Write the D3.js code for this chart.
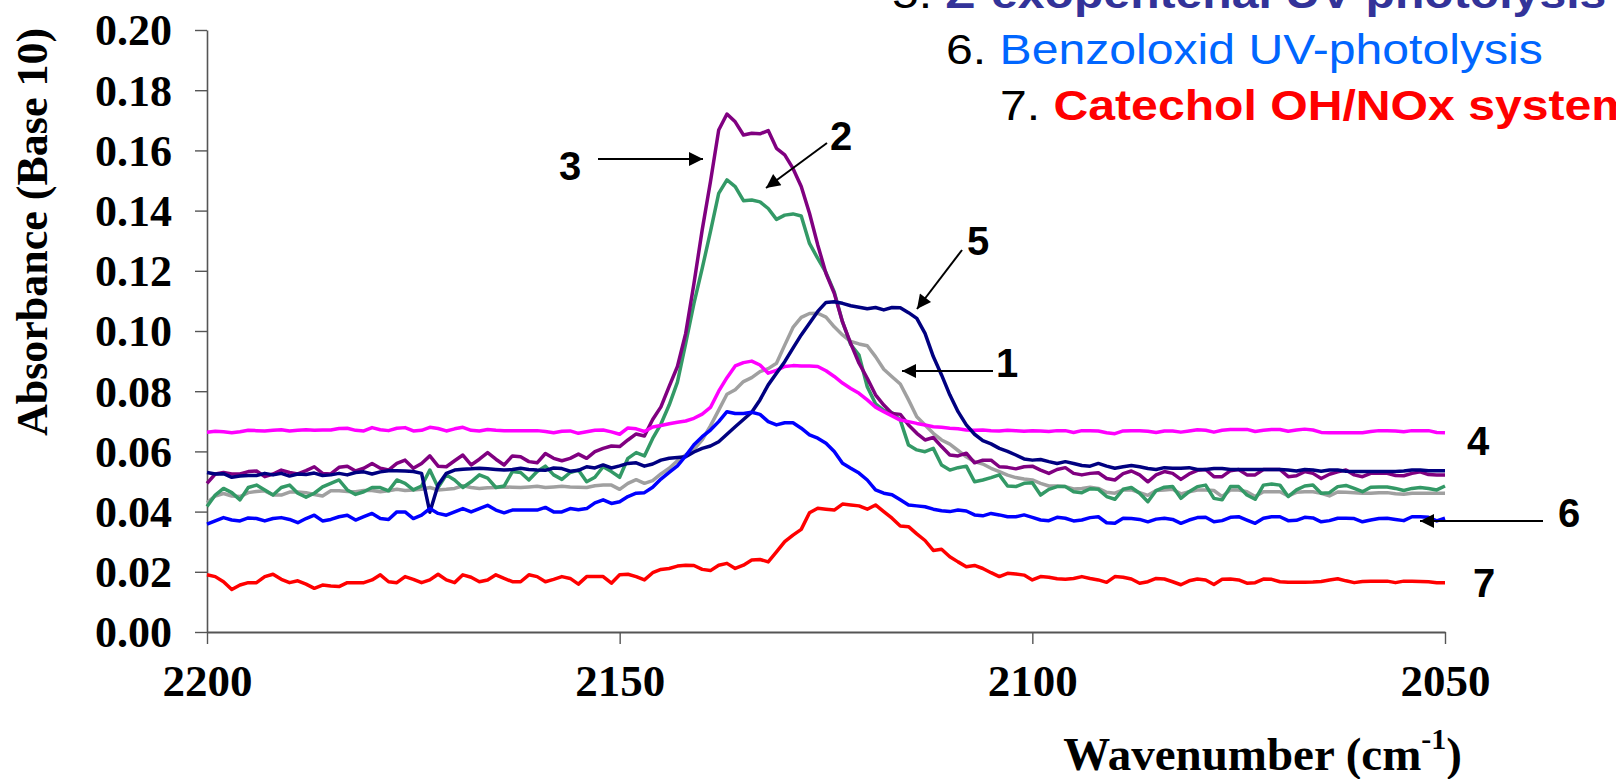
<!DOCTYPE html>
<html>
<head>
<meta charset="utf-8">
<script src="https://cdn.jsdelivr.net/npm/d3@7"></script>
<style>
  html, body { margin: 0; padding: 0; background: #ffffff; overflow: hidden; }
  svg { display: block; }
</style>
</head>
<body>
<svg id="chart" width="1616" height="779"></svg>
<script>
// Absorbance spectra, 2200 -> 2050 cm-1, one value per wavenumber
const wavenumbers = d3.range(2200, 2049, -1);

const seriesNames = ["1", "2", "3", "4", "5", "6", "7"];
const seriesColors = ["#a0a0a0", "#339966", "#800080", "#ff00ff", "#000080", "#0000ff", "#ff0000"];

const absorbance1 = [
  .0430, .0452, .0460, .0452, .0450, .0463, .0467, .0469, .0455, .0455,
  .0465, .0465, .0463, .0457, .0452, .0469, .0469, .0467, .0466, .0470,
  .0470, .0466, .0469, .0474, .0470, .0472, .0474, .0480, .0472, .0474,
  .0477, .0486, .0480, .0477, .0479, .0480, .0482, .0481, .0480, .0482,
  .0484, .0480, .0482, .0484, .0482, .0481, .0480, .0486, .0488, .0488,
  .0474,
  .0494, .0506, .0494, .0503, .0525, .0544, .0569, .0588, .0607, .0638, .0685, .0737,
  .0790, .0805, .0832, .0845, .0865, .0875, .0893, .0953, .1012, .1045,
  .1058, .1059, .1046, .1014, .0987, .0965, .0957, .0951, .0915, .0873,
  .0848, .0824, .0771, .0715, .0688, .0660, .0638, .0624, .0603, .0582,
  .0566, .0558, .0544, .0533, .0521, .0513,
  .0508, .0505, .0494, .0485, .0485, .0483, .0475, .0477, .0481, .0477,
  .0464, .0461, .0472, .0472, .0463, .0454, .0470, .0472, .0474, .0459,
  .0466, .0472, .0472, .0470, .0450, .0472, .0472, .0466, .0450, .0466,
  .0466, .0466, .0452, .0464, .0466, .0466, .0461, .0452, .0465, .0464,
  .0463, .0461, .0461, .0463, .0463, .0459, .0458, .0461, .0461, .0461,
  .0461, .0461
];

const absorbance2 = [
  .0417, .0455, .0477, .0463, .0439, .0480, .0488, .0472, .0455, .0480,
  .0488, .0461, .0448, .0461, .0482, .0494, .0505, .0472, .0457, .0466,
  .0480, .0480, .0469, .0505, .0494, .0472, .0485, .0538, .0480, .0522,
  .0505, .0480, .0499, .0522, .0511, .0480, .0485, .0533, .0530, .0505,
  .0533, .0551, .0522, .0507, .0530, .0538, .0499, .0514, .0549, .0533,
  .0514,
  .0577, .0596, .0585, .0643, .0691, .0754,
  .0830, .0959, .1092, .1208, .1330, .1457, .1502, .1480, .1433, .1435,
  .1429, .1407, .1371, .1385, .1389, .1382, .1291, .1241, .1194, .1130,
  .1030, .0955, .0920, .0815, .0758, .0736, .0729, .0704, .0621, .0605,
  .0599, .0610, .0555, .0538, .0546, .0551, .0499, .0505, .0513, .0522,
  .0485, .0483,
  .0494, .0496, .0455, .0474, .0483, .0483, .0466, .0463, .0476, .0474,
  .0450, .0441, .0474, .0480, .0461, .0433, .0470, .0481, .0483, .0444,
  .0466, .0483, .0488, .0444, .0439, .0483, .0483, .0455, .0441, .0488,
  .0492, .0488, .0450, .0472, .0485, .0488, .0461, .0463, .0483, .0487,
  .0477, .0466, .0481, .0482, .0482, .0477, .0470, .0477, .0480, .0477,
  .0472, .0485
];

const absorbance3 = [
  .0494, .0525, .0530, .0525, .0525, .0533, .0535, .0516, .0525, .0538,
  .0530, .0525, .0536, .0549, .0527, .0525, .0547, .0551, .0535, .0544,
  .0560, .0544, .0538, .0560, .0571, .0544, .0560, .0585, .0551, .0549,
  .0569, .0588, .0555, .0574, .0596, .0574, .0555, .0585, .0582, .0566,
  .0562, .0593, .0577, .0569, .0577, .0591, .0577, .0599, .0610, .0618,
  .0616,
  .0638, .0658, .0651, .0706, .0748,
  .0816, .0882, .0992, .1158, .1336, .1496, .1668, .1721, .1695, .1651,
  .1657, .1655, .1666, .1607, .1585, .1540, .1480, .1391, .1286, .1191,
  .1125, .1030, .0958, .0893, .0843, .0788, .0754, .0726, .0723, .0688,
  .0660, .0638, .0646, .0616, .0588, .0585, .0594, .0562, .0571, .0571,
  .0549, .0547, .0542,
  .0549, .0551, .0538, .0527, .0540, .0546, .0527, .0522, .0527, .0529,
  .0510, .0505, .0526, .0535, .0522, .0499, .0522, .0533, .0527, .0507,
  .0525, .0537, .0540, .0516, .0516, .0536, .0540, .0522, .0522, .0540,
  .0540, .0540, .0516, .0519, .0533, .0527, .0510, .0524, .0532, .0538,
  .0522, .0516, .0527, .0528, .0527, .0520, .0519, .0527, .0532, .0523,
  .0522, .0522
];

const absorbance4 = [
  .0664, .0667, .0665, .0662, .0665, .0670, .0669, .0668, .0670, .0672,
  .0668, .0670, .0672, .0670, .0671, .0671, .0676, .0677, .0670, .0668,
  .0679, .0672, .0669, .0677, .0679, .0668, .0670, .0680, .0676, .0668,
  .0675, .0680, .0670, .0668, .0673, .0670, .0669, .0669, .0669, .0669,
  .0669, .0666, .0662, .0667, .0668, .0660, .0665, .0670, .0671, .0665,
  .0657,
  .0678, .0675, .0666, .0681, .0686, .0692, .0697, .0701, .0710, .0724, .0746, .0800,
  .0845, .0884, .0895, .0900, .0887, .0860, .0869, .0882, .0885, .0884,
  .0884, .0882, .0868, .0849, .0827, .0809, .0793, .0771, .0747, .0732,
  .0718, .0704, .0699, .0693, .0688, .0682, .0680, .0677, .0675, .0671,
  .0670, .0671, .0669, .0668, .0670, .0669,
  .0667, .0669, .0668, .0666, .0669, .0669, .0663, .0669, .0669, .0668,
  .0662, .0659, .0668, .0669, .0669, .0667, .0663, .0668, .0668, .0664,
  .0668, .0672, .0670, .0664, .0670, .0673, .0673, .0673, .0666, .0670,
  .0673, .0673, .0667, .0671, .0674, .0671, .0663, .0662, .0662, .0662,
  .0662, .0662, .0666, .0669, .0669, .0668, .0665, .0669, .0669, .0669,
  .0663, .0662
];

const absorbance5 = [
  .0530, .0525, .0526, .0514, .0518, .0520, .0520, .0527, .0522, .0527,
  .0518, .0525, .0523, .0528, .0520, .0522, .0527, .0522, .0530, .0532,
  .0525, .0532, .0536, .0536, .0535, .0533, .0527, .0398, .0488, .0527,
  .0538, .0541, .0542, .0544, .0542, .0540, .0538, .0540, .0544, .0540,
  .0538, .0537, .0545, .0543, .0534, .0537, .0549, .0545, .0555, .0545,
  .0552,
  .0560, .0562, .0551, .0558, .0571, .0577, .0580, .0582, .0598, .0610,
  .0618, .0632, .0657, .0682, .0706, .0730, .0771,
  .0821, .0860, .0898, .0943, .0987, .1026, .1065, .1095, .1097, .1092,
  .1084, .1079, .1074, .1078, .1070, .1078, .1077, .1061, .1042, .0992,
  .0915, .0854, .0788, .0732, .0688, .0657, .0636, .0625, .0610,
  .0600, .0588,
  .0575, .0571, .0573, .0566, .0560, .0566, .0560, .0553, .0551, .0560,
  .0551, .0544, .0549, .0553, .0549, .0543, .0540, .0546, .0544, .0544,
  .0546, .0540, .0540, .0543, .0543, .0540, .0540, .0540, .0540, .0540,
  .0540, .0540, .0538, .0535, .0540, .0538, .0534, .0538, .0538, .0534,
  .0533, .0533, .0533, .0533, .0533, .0533, .0535, .0538, .0538, .0536,
  .0536, .0536
];

const absorbance6 = [
  .0358, .0369, .0380, .0372, .0369, .0379, .0377, .0369, .0377, .0380,
  .0374, .0363, .0377, .0388, .0369, .0374, .0383, .0388, .0372, .0383,
  .0394, .0377, .0374, .0399, .0399, .0377, .0388, .0410, .0394, .0388,
  .0399, .0410, .0399, .0410, .0421, .0405, .0396, .0405, .0405, .0405,
  .0405, .0414, .0399, .0399, .0410, .0406, .0410, .0429, .0439, .0427,
  .0433,
  .0450, .0461, .0463, .0481, .0508, .0530, .0552, .0585, .0622, .0649,
  .0671, .0699, .0732, .0726, .0726, .0730, .0723, .0699, .0688, .0695,
  .0695, .0677, .0655, .0644, .0627, .0600, .0561, .0544, .0528, .0505,
  .0472, .0461, .0456, .0439, .0422, .0419, .0416, .0408, .0403, .0400,
  .0405, .0402, .0389, .0386, .0394, .0389, .0383, .0383,
  .0389, .0381, .0372, .0370, .0381, .0378, .0369, .0372, .0380, .0383,
  .0363, .0361, .0378, .0377, .0374, .0366, .0375, .0378, .0374, .0361,
  .0372, .0380, .0381, .0366, .0370, .0381, .0383, .0372, .0361, .0378,
  .0383, .0383, .0370, .0371, .0381, .0379, .0366, .0370, .0378, .0378,
  .0377, .0366, .0372, .0377, .0378, .0374, .0370, .0383, .0383, .0381,
  .0369, .0378
];

const absorbance7 = [
  .0190, .0184, .0167, .0141, .0156, .0164, .0164, .0184, .0192, .0175,
  .0164, .0170, .0159, .0145, .0156, .0153, .0151, .0164, .0164, .0164,
  .0173, .0190, .0167, .0164, .0184, .0175, .0164, .0173, .0192, .0173,
  .0164, .0190, .0182, .0167, .0173, .0190, .0178, .0167, .0167, .0190,
  .0184, .0167, .0175, .0184, .0178, .0159, .0184, .0184, .0184, .0162,
  .0190,
  .0192, .0184, .0173, .0197, .0208, .0211, .0219, .0222, .0221, .0208,
  .0204, .0222, .0228, .0211, .0222, .0239, .0241, .0233, .0266, .0300,
  .0322, .0341, .0396, .0411, .0408, .0405, .0425, .0422, .0419, .0408,
  .0422, .0400, .0378, .0352, .0350, .0326, .0304, .0271, .0275, .0250,
  .0233, .0217, .0221, .0211, .0197, .0184, .0195, .0193,
  .0189, .0173, .0184, .0182, .0177, .0175, .0178, .0184, .0178, .0173,
  .0165, .0184, .0182, .0176, .0162, .0167, .0178, .0176, .0167, .0157,
  .0170, .0176, .0173, .0158, .0175, .0176, .0173, .0162, .0164, .0176,
  .0175, .0167, .0165, .0165, .0165, .0166, .0168, .0173, .0177, .0170,
  .0164, .0168, .0169, .0169, .0169, .0164, .0169, .0169, .0168, .0167,
  .0164, .0164
];

const yTicks = [0, 0.02, 0.04, 0.06, 0.08, 0.10, 0.12, 0.14, 0.16, 0.18, 0.20];
const xTicks = [2200, 2150, 2100, 2050];

const legendEntries = [
  { num: "5. ", label: "Z-exopentenal UV-photolysis", color: "#333399", weight: "bold" },
  { num: "6. ", label: "Benzoloxid UV-photolysis", color: "#0066ff", weight: "normal" },
  { num: "7. ", label: "Catechol OH/NOx system", color: "#ff0000", weight: "bold" }
];

const series = [absorbance1, absorbance2, absorbance3, absorbance4, absorbance5, absorbance6, absorbance7];

const serifFont = "'Liberation Serif', 'Times New Roman', serif";
const sansFont = "'Liberation Sans', Arial, sans-serif";

const svg = d3.select("#chart");

const x = d3.scaleLinear().domain([2200, 2050]).range([207, 1445]);
const y = d3.scaleLinear().domain([0, 0.2]).range([632, 30]);

// y axis
const yAxis = svg.append("g")
  .attr("transform", `translate(${x(2200)},0)`)
  .call(d3.axisLeft(y).tickValues(yTicks).tickSize(12).tickSizeOuter(0)
    .tickPadding(23).tickFormat(d3.format(".2f")));
yAxis.select(".domain").attr("stroke", "#555").attr("stroke-width", 1.6);
yAxis.selectAll(".tick line").attr("stroke", "#555").attr("stroke-width", 1.4);
yAxis.selectAll(".tick text")
  .attr("font-family", serifFont).attr("font-weight", "bold")
  .attr("font-size", 44).attr("fill", "#000").attr("dy", "0.34em");

// x axis
const xAxis = svg.append("g")
  .attr("transform", `translate(0,${y(0)})`)
  .call(d3.axisBottom(x).tickValues(xTicks).tickSize(12).tickSizeOuter(0)
    .tickPadding(52).tickFormat(d3.format("d")));
xAxis.select(".domain").attr("stroke", "#555").attr("stroke-width", 2);
xAxis.selectAll(".tick line").attr("stroke", "#555").attr("stroke-width", 1.4);
xAxis.selectAll(".tick text")
  .attr("font-family", serifFont).attr("font-weight", "bold")
  .attr("font-size", 45).attr("fill", "#000").attr("dy", "0");

// axis titles
svg.append("text")
  .attr("transform", "translate(47,232) rotate(-90)")
  .attr("text-anchor", "middle")
  .attr("font-family", serifFont).attr("font-weight", "bold").attr("font-size", 44)
  .text("Absorbance (Base 10)");

const xTitle = svg.append("text")
  .attr("x", 1462).attr("y", 770)
  .attr("text-anchor", "end")
  .attr("font-family", serifFont).attr("font-weight", "bold").attr("font-size", 47);
xTitle.append("tspan").text("Wavenumber (cm");
xTitle.append("tspan").attr("font-size", 30).attr("dy", -21).text("-1");
xTitle.append("tspan").attr("dy", 21).text(")");

// spectra
const line = d3.line()
  .x((d, i) => x(wavenumbers[i]))
  .y(d => y(d));

svg.append("g").selectAll("path")
  .data(series)
  .join("path")
  .attr("fill", "none")
  .attr("stroke", (d, i) => seriesColors[i])
  .attr("stroke-width", 3.5)
  .attr("stroke-linejoin", "round")
  .attr("d", line);

// legend lines at the top right
const legendPos = [[892, 8], [946, 64], [1000, 120]];
legendEntries.forEach((e, i) => {
  const t = svg.append("text")
    .attr("transform", `translate(${legendPos[i][0]},${legendPos[i][1]}) scale(1.12,1)`)
    .attr("font-family", sansFont).attr("font-size", 43);
  t.append("tspan").attr("fill", "#000").text(e.num);
  t.append("tspan").attr("fill", e.color).attr("font-weight", e.weight).text(e.label);
});

// curve labels and arrows
const defs = svg.append("defs");
defs.append("marker")
  .attr("id", "head").attr("viewBox", "0 0 10 10")
  .attr("refX", 10).attr("refY", 5)
  .attr("markerWidth", 8).attr("markerHeight", 7)
  .attr("markerUnits", "strokeWidth")
  .attr("orient", "auto")
  .append("path").attr("d", "M0,0 L10,5 L0,10 Z").attr("fill", "#000");

const curveLabels = [
  { text: "3", x: 570, y: 180, from: [598, 159], to: [703, 159] },
  { text: "2", x: 841, y: 150, from: [827, 143], to: [766, 188] },
  { text: "5", x: 978, y: 255, from: [962, 250], to: [917, 309] },
  { text: "1", x: 1007, y: 377, from: [993, 371], to: [902, 371] },
  { text: "4", x: 1478, y: 455 },
  { text: "6", x: 1569, y: 527, from: [1543, 521], to: [1420, 521] },
  { text: "7", x: 1484, y: 597 }
];

curveLabels.forEach(c => {
  svg.append("text")
    .attr("x", c.x).attr("y", c.y)
    .attr("text-anchor", "middle")
    .attr("font-family", sansFont).attr("font-weight", "bold").attr("font-size", 40)
    .text(c.text);
  if (c.from) {
    svg.append("line")
      .attr("x1", c.from[0]).attr("y1", c.from[1])
      .attr("x2", c.to[0]).attr("y2", c.to[1])
      .attr("stroke", "#000").attr("stroke-width", 2)
      .attr("marker-end", "url(#head)");
  }
});
</script>
</body>
</html>
